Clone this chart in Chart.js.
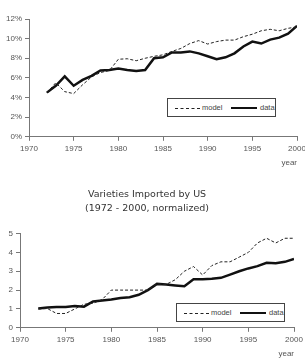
<!DOCTYPE html>
<html>
<head>
<meta charset="utf-8">
<script src="https://cdn.jsdelivr.net/npm/chart.js@4"></script>
<style>
  html, body { margin: 0; padding: 0; background: #fff; overflow: hidden; width: 305px; height: 359px; }
  .wrap { position: absolute; left: 0; }
  .legend {
    position: absolute; border: 1px solid #444; background: #fff; box-sizing: border-box;
    font: 7.5px "Liberation Sans", Arial, sans-serif; color: #444;
    -webkit-font-smoothing: antialiased;
  }
  .legend span { position: absolute; top: 50%; }
  .legend .txt { transform: translateY(-50%); line-height: 1; }
  .legend .dash { width: 25px; height: 0; border-top: 1px dashed #222; }
  .legend .solid { width: 26px; height: 0; border-top: 2.5px solid #111; margin-top: -1px; }
</style>
</head>
<body>
<div class="wrap" style="top:0;width:312px;height:174px"><canvas id="shareChart"></canvas></div>
<div class="legend" style="left:167px;top:98px;width:109px;height:19px">
  <span class="dash" style="left:7px"></span><span class="txt" style="left:34px">model</span>
  <span class="solid" style="left:63px"></span><span class="txt" style="left:92px">data</span>
</div>
<div class="wrap" style="top:180px;width:312px;height:183px"><canvas id="varChart"></canvas></div>
<div class="legend" style="left:176px;top:303px;width:109px;height:19px">
  <span class="dash" style="left:7px"></span><span class="txt" style="left:34px">model</span>
  <span class="solid" style="left:63px"></span><span class="txt" style="left:92px">data</span>
</div>
<script>
const years = [1972, 1973, 1974, 1975, 1976, 1977, 1978, 1979, 1980, 1981, 1982, 1983, 1984, 1985,
  1986, 1987, 1988, 1989, 1990, 1991, 1992, 1993, 1994, 1995, 1996, 1997, 1998, 1999, 2000];

// import share (%)
const shareModel = [4.5, 5.5, 4.6, 4.4, 5.3, 6.1, 6.55, 6.75, 7.9, 7.95, 7.75, 8.0, 8.2, 8.35,
  8.7, 9.0, 9.5, 9.8, 9.45, 9.7, 9.85, 9.85, 10.2, 10.45, 10.8, 10.95, 10.8, 11.05, 11.2];
const shareData = [4.5, 5.2, 6.15, 5.2, 5.8, 6.2, 6.75, 6.8, 6.95, 6.8, 6.7, 6.8, 8.0, 8.1,
  8.6, 8.6, 8.7, 8.5, 8.2, 7.9, 8.1, 8.5, 9.2, 9.7, 9.5, 9.9, 10.1, 10.5, 11.3];

// varieties imported (normalized)
const varModel = [1.0, 1.02, 0.76, 0.76, 1.0, 1.25, 1.3, 1.5, 2.0, 2.0, 2.0, 2.0, 2.0, 2.33,
  2.3, 2.55, 3.0, 3.25, 2.8, 3.3, 3.5, 3.5, 3.75, 4.0, 4.5, 4.75, 4.5, 4.75, 4.75];
const varData = [1.02, 1.08, 1.1, 1.1, 1.15, 1.12, 1.4, 1.45, 1.5, 1.58, 1.62, 1.75, 2.0, 2.33,
  2.3, 2.25, 2.2, 2.57, 2.57, 2.6, 2.65, 2.82, 3.0, 3.15, 3.27, 3.45, 3.42, 3.5, 3.65];

const varTitle = ['Varieties Imported by US', '(1972 - 2000, normalized)'];

const toPoints = (values) => values.map((v, i) => ({ x: years[i], y: v }));

const tickFont = { family: 'Liberation Sans, Arial, sans-serif', size: 8 };
const axisColor = '#777';

const makeChart = (id, model, data, yOpts, extra) => {
  new Chart(document.getElementById(id), {
    type: 'line',
    data: {
      datasets: [
        { label: 'model', data: toPoints(model), borderColor: '#222', borderWidth: 1, borderDash: [3, 2] },
        { label: 'data', data: toPoints(data), borderColor: '#111', borderWidth: 2.5 }
      ]
    },
    options: {
      animation: false,
      responsive: true,
      maintainAspectRatio: false,
      elements: { point: { radius: 0 }, line: { tension: 0 } },
      layout: { padding: extra.padding },
      plugins: {
        legend: { display: false },
        tooltip: { enabled: false },
        title: extra.title
      },
      scales: {
        x: {
          type: 'linear', min: 1970, max: 2000,
          ticks: { stepSize: 5, font: tickFont, color: '#555', padding: 3, maxRotation: 0, callback: (v) => String(v) },
          grid: { drawOnChartArea: false, tickLength: 4, color: axisColor },
          border: { color: axisColor },
          title: { display: true, text: 'year', align: 'end', font: tickFont, color: '#555', padding: { top: 2 } }
        },
        y: Object.assign({
          grid: { drawOnChartArea: false, tickLength: 4, color: axisColor },
          border: { color: axisColor },
          afterFit: (scale) => { scale.width = extra.yWidth; }
        }, yOpts)
      }
    }
  });
};

makeChart('shareChart', shareModel, shareData, {
  min: 0, max: 12,
  ticks: { stepSize: 2, font: tickFont, color: '#555', padding: 3, callback: (v) => v + '%' }
}, {
  padding: { top: 19, right: 15, left: 0, bottom: 2 },
  yWidth: 29,
  title: { display: false }
});

makeChart('varChart', varModel, varData, {
  min: 0, max: 5,
  ticks: { stepSize: 1, font: tickFont, color: '#555', padding: 3 }
}, {
  padding: { top: 8, right: 18, left: 0, bottom: 0 },
  yWidth: 20,
  title: {
    display: true, text: varTitle, color: '#333',
    font: { family: 'DejaVu Sans, Verdana, sans-serif', size: 9.5, weight: 'normal', lineHeight: 1.45 },
    padding: { top: 0, bottom: 18 }
  }
});
</script>
</body>
</html>
